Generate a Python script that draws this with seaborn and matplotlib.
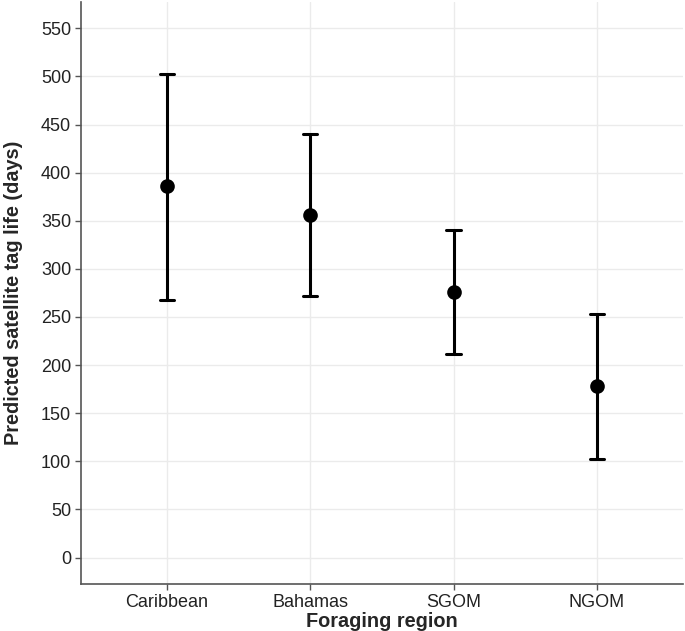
import matplotlib
matplotlib.use("Agg")
import matplotlib.pyplot as plt
import seaborn as sns
import numpy as np
import pandas as pd

# 预测值与区间
regions = ["Caribbean", "Bahamas", "SGOM", "NGOM"]
pred_mean = [386, 356, 276, 178]
pred_lower = [268, 272, 212, 102]
pred_upper = [503, 440, 340, 253]
y_ticks = [0, 50, 100, 150, 200, 250, 300, 350, 400, 450, 500, 550]

# long format: median of (lower, mean, upper) = mean, pi 100 = [lower, upper]
df = pd.DataFrame({
    "region": np.repeat(regions, 3),
    "days": np.ravel(np.column_stack([pred_lower, pred_mean, pred_upper])),
})

sns.set_theme(style="white")
plt.rcParams["font.family"] = ["Liberation Sans", "DejaVu Sans"]

fig = plt.figure(figsize=(6.85, 6.31), dpi=100)
ax = fig.add_axes([0.118, 0.0745, 0.879, 0.9225])

sns.pointplot(data=df, x="region", y="days", order=regions,
              estimator=np.median, errorbar=("pi", 100),
              color="black", linestyle="none", markers="o",
              markersize=8.5, capsize=0.1,
              err_kws={"linewidth": 2.2}, ax=ax)

ax.set_xlim(-0.6, 3.6)
ax.set_ylim(-27.5, 577.5)
ax.set_yticks(y_ticks)
ax.grid(True, color="#ebebeb", linewidth=1.0)
ax.set_axisbelow(True)

for s in ["top", "right"]:
    ax.spines[s].set_visible(False)
for s in ["left", "bottom"]:
    ax.spines[s].set_color("#555555")
    ax.spines[s].set_linewidth(1.2)

ax.tick_params(axis="both", which="both", length=4, width=1, color="#555555",
               labelsize=13, labelcolor="#222222", left=True, bottom=True, pad=3)
ax.set_xlabel("Foraging region", fontsize=14.3, fontweight="bold", labelpad=1)
ax.set_ylabel("Predicted satellite tag life (days)", fontsize=14.3, fontweight="bold", labelpad=13)

fig.savefig("out.png", dpi=100)
